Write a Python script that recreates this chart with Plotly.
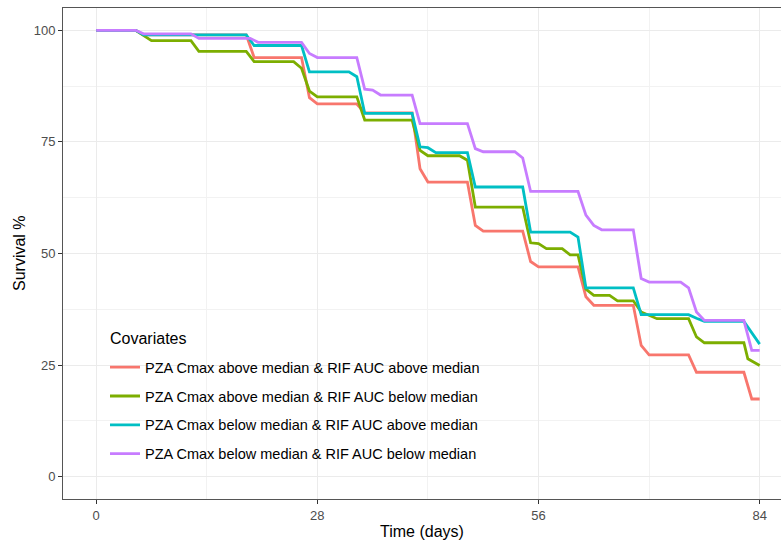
import plotly.graph_objects as go

# ---- data ----
series_names = [
    "PZA Cmax above median & RIF AUC above median",
    "PZA Cmax above median & RIF AUC below median",
    "PZA Cmax below median & RIF AUC above median",
    "PZA Cmax below median & RIF AUC below median",
]
colors = ["#F8766D", "#7CAE00", "#00BFC4", "#C77CFF"]
legend_title = "Covariates"

red_days = [0, 5, 6, 19, 20, 26, 27, 28, 33, 34, 40, 41, 42, 47, 48, 49, 54, 55, 56, 61, 62, 63, 68, 69, 70, 75, 76, 82, 83, 84]
red_surv = [100, 100, 99, 99, 93.9, 93.9, 84.9, 83.5, 83.5, 81.5, 81.5, 69, 66, 66, 56.3, 55, 55, 48.2, 47, 47, 40.3, 38.4, 38.4, 29.4, 27.3, 27.3, 23.4, 23.4, 17.4, 17.4]

green_days = [0, 5, 7, 12, 13, 19, 20, 25, 26, 27, 28, 33, 34, 40, 41, 42, 46, 47, 48, 54, 55, 56, 57, 59, 60, 61, 62, 63, 65, 66, 68, 69, 71, 75, 76, 77, 82, 82.5, 84]
green_surv = [100, 100, 97.7, 97.7, 95.3, 95.3, 93, 93, 91.5, 86.4, 85.1, 85.1, 79.9, 79.9, 73.1, 71.9, 71.9, 70.9, 60.4, 60.4, 52.4, 52.2, 51.1, 51.1, 49.7, 49.7, 42, 40.6, 40.6, 39.4, 39.4, 36.9, 35.4, 35.4, 31.3, 30.0, 30.0, 26.4, 24.9]

cyan_days = [0, 5, 6, 19, 20, 26, 27, 32, 33, 34, 40, 41, 42, 43, 47, 48, 54, 55, 60, 61, 62, 68, 69, 75, 76, 77, 82, 84]
cyan_surv = [100, 100, 99, 99, 96.6, 96.6, 90.7, 90.7, 89.6, 81.4, 81.4, 73.9, 73.7, 72.6, 72.6, 64.9, 64.9, 54.8, 54.8, 53.7, 42.3, 42.3, 36.3, 36.3, 35.5, 34.8, 34.8, 29.7]

purple_days = [0, 5, 6, 12, 13, 19.5, 20.5, 26, 27, 28, 33, 34, 35, 36, 40, 41, 47, 48, 49, 53, 54, 55, 61, 62, 63, 64, 68, 69, 70, 74, 75, 76, 77, 82, 83, 84]
purple_surv = [100, 100, 99.2, 99.2, 98.2, 98.2, 97.3, 97.3, 94.8, 93.9, 93.9, 86.8, 86.6, 85.5, 85.5, 79.1, 79.1, 73.5, 72.8, 72.8, 71.4, 63.9, 63.9, 58.6, 56.3, 55.3, 55.3, 44.4, 43.6, 43.6, 42.3, 36.9, 35.0, 35.0, 28.3, 28.3]

all_days = [red_days, green_days, cyan_days, purple_days]
all_surv = [red_surv, green_surv, cyan_surv, purple_surv]

x_ticks = [0, 28, 56, 84]
y_ticks = [0, 25, 50, 75, 100]

FONT = "Liberation Sans, Arial, sans-serif"

fig = go.Figure()
for name, col, xs, ys in zip(series_names, colors, all_days, all_surv):
    fig.add_trace(go.Scatter(
        x=xs, y=ys, mode="lines", name=name, legendgroup=name,
        line=dict(color=col, width=2.8),
    ))

axis_common = dict(
    automargin=False,
    showgrid=True, gridcolor="#EBEBEB", gridwidth=1.1,
    zeroline=False,
    showline=True, linecolor="#555555", linewidth=1,
    ticks="outside", ticklen=4, tickcolor="#333333", tickwidth=1,
    tickfont=dict(family=FONT, size=13, color="#4D4D4D"),
)

fig.update_layout(
    width=781, height=544,
    margin=dict(l=63, r=0, t=8, b=45),
    paper_bgcolor="white", plot_bgcolor="white",
    font=dict(family=FONT, color="black"),
    xaxis=dict(
        axis_common, range=[-4.2, 86.7], tickvals=x_ticks, mirror=True,
        minor=dict(showgrid=True, gridcolor="#F2F2F2", gridwidth=0.7, tickvals=[14, 42, 70]),
    ),
    yaxis=dict(
        axis_common, range=[-5, 105], tickvals=y_ticks,
        minor=dict(showgrid=True, gridcolor="#F2F2F2", gridwidth=0.7, tickvals=[12.5, 37.5, 62.5, 87.5]),
    ),
    showlegend=True,
    legend=dict(
        x=0.0585, y=0.301, xanchor="left", yanchor="top",
        bgcolor="rgba(0,0,0,0)", borderwidth=0,
        font=dict(family=FONT, size=14.5, color="black"),
        traceorder="grouped", tracegroupgap=7,
    ),
    shapes=[
        dict(type="rect", xref="paper", yref="paper", x0=0.047, x1=0.595, y0=0.059, y1=0.369,
             fillcolor="white", line=dict(width=0), layer="below"),
    ],
    annotations=[
        dict(text=legend_title, xref="paper", yref="paper", x=0.0627, y=0.326,
             xanchor="left", yanchor="middle", showarrow=False,
             font=dict(family=FONT, size=16, color="black")),
        dict(text="Time (days)", xref="paper", yref="paper", x=0.5, y=0, yshift=-32,
             xanchor="center", yanchor="middle", showarrow=False,
             font=dict(family=FONT, size=16, color="black")),
        dict(text="Survival %", xref="paper", yref="paper", x=0, y=0.5, xshift=-54,
             xanchor="left", yanchor="middle", textangle=-90, showarrow=False,
             font=dict(family=FONT, size=16, color="black")),
    ],
)

fig.write_html("out.html", config={"displayModeBar": False},
               post_script="document.body.style.margin='0px';")
